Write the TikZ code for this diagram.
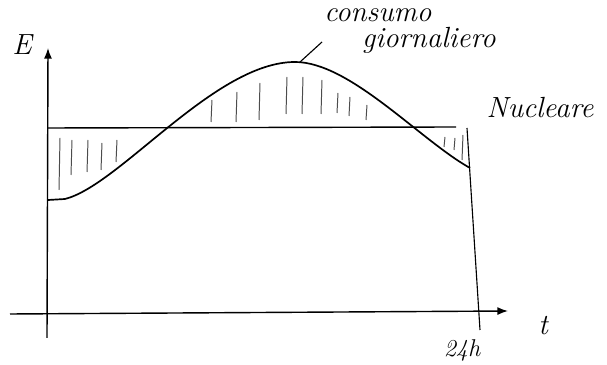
\documentclass[tikz,border=0pt]{standalone}
\usepackage{amsmath}
\usepackage{xcolor}
\usepackage{tikz}
\usetikzlibrary{arrows.meta}

\begin{document}
\begin{tikzpicture}[>=Latex, x=0.025cm, y=-0.025cm,
    hand/.style={font=\huge\itshape},
    hatch/.style={gray!60!black, line width=0.7pt}]
    \useasboundingbox (0,0) rectangle (607,365);
    % axes
    \coordinate (ytop) at (48,48);
    \coordinate (ybot) at (47,338);
    \coordinate (xleft) at (10,314);
    \coordinate (xright) at (508,311);
    \draw[line width=1pt, ->] (ybot) -- (ytop);
    \draw[line width=1pt, ->] (xleft) -- (xright);
    \node[hand] (elab) at (22,45) {E};
    \node[hand] (tlab) at (543,326) {t};
    % end of the day
    \coordinate (dtop) at (467,128);
    \coordinate (dbot) at (480,330);
    \draw[line width=0.8pt] (dtop) -- (dbot);
    \node[hand, font=\LARGE\itshape] (daylab) at (462,350) {24h};
    % nuclear level
    \coordinate (nleft) at (48,128);
    \coordinate (nright) at (456,127);
    \draw[line width=1pt] (nleft) -- (nright);
    \node[hand] (nuclab) at (540,108) {Nucleare};
    % hatching
    \foreach \xx/\ya/\yb in {60/138/190, 72/140/175, 88/140/172, 102/143/170, 117/140/162,
        212/100/122, 237/92/122, 260/83/120, 287/77/114, 303/77/114, 322/80/114,
        338/93/113, 350/97/116, 367/105/120, 445/137/147, 455/138/150, 463/135/160}
        \draw[hatch] (\xx,\ya) -- (\xx-1,\yb);
    % daily consumption
    \coordinate (peak) at (295,62);
    \draw[line width=1.2pt] (48,200) -- (65,199) .. controls (120,185) and (215,62) .. (peak)
        .. controls (350,62) and (420,140) .. (470,168);
    \node[hand, align=left, inner sep=1pt] (conslab) at (410,31)
        {consumo\\[-7pt]\hspace*{1.3em}giornaliero};
    \draw[line width=0.8pt] (peak) ++(5,0) -- (322,42);
\end{tikzpicture}
\end{document}
